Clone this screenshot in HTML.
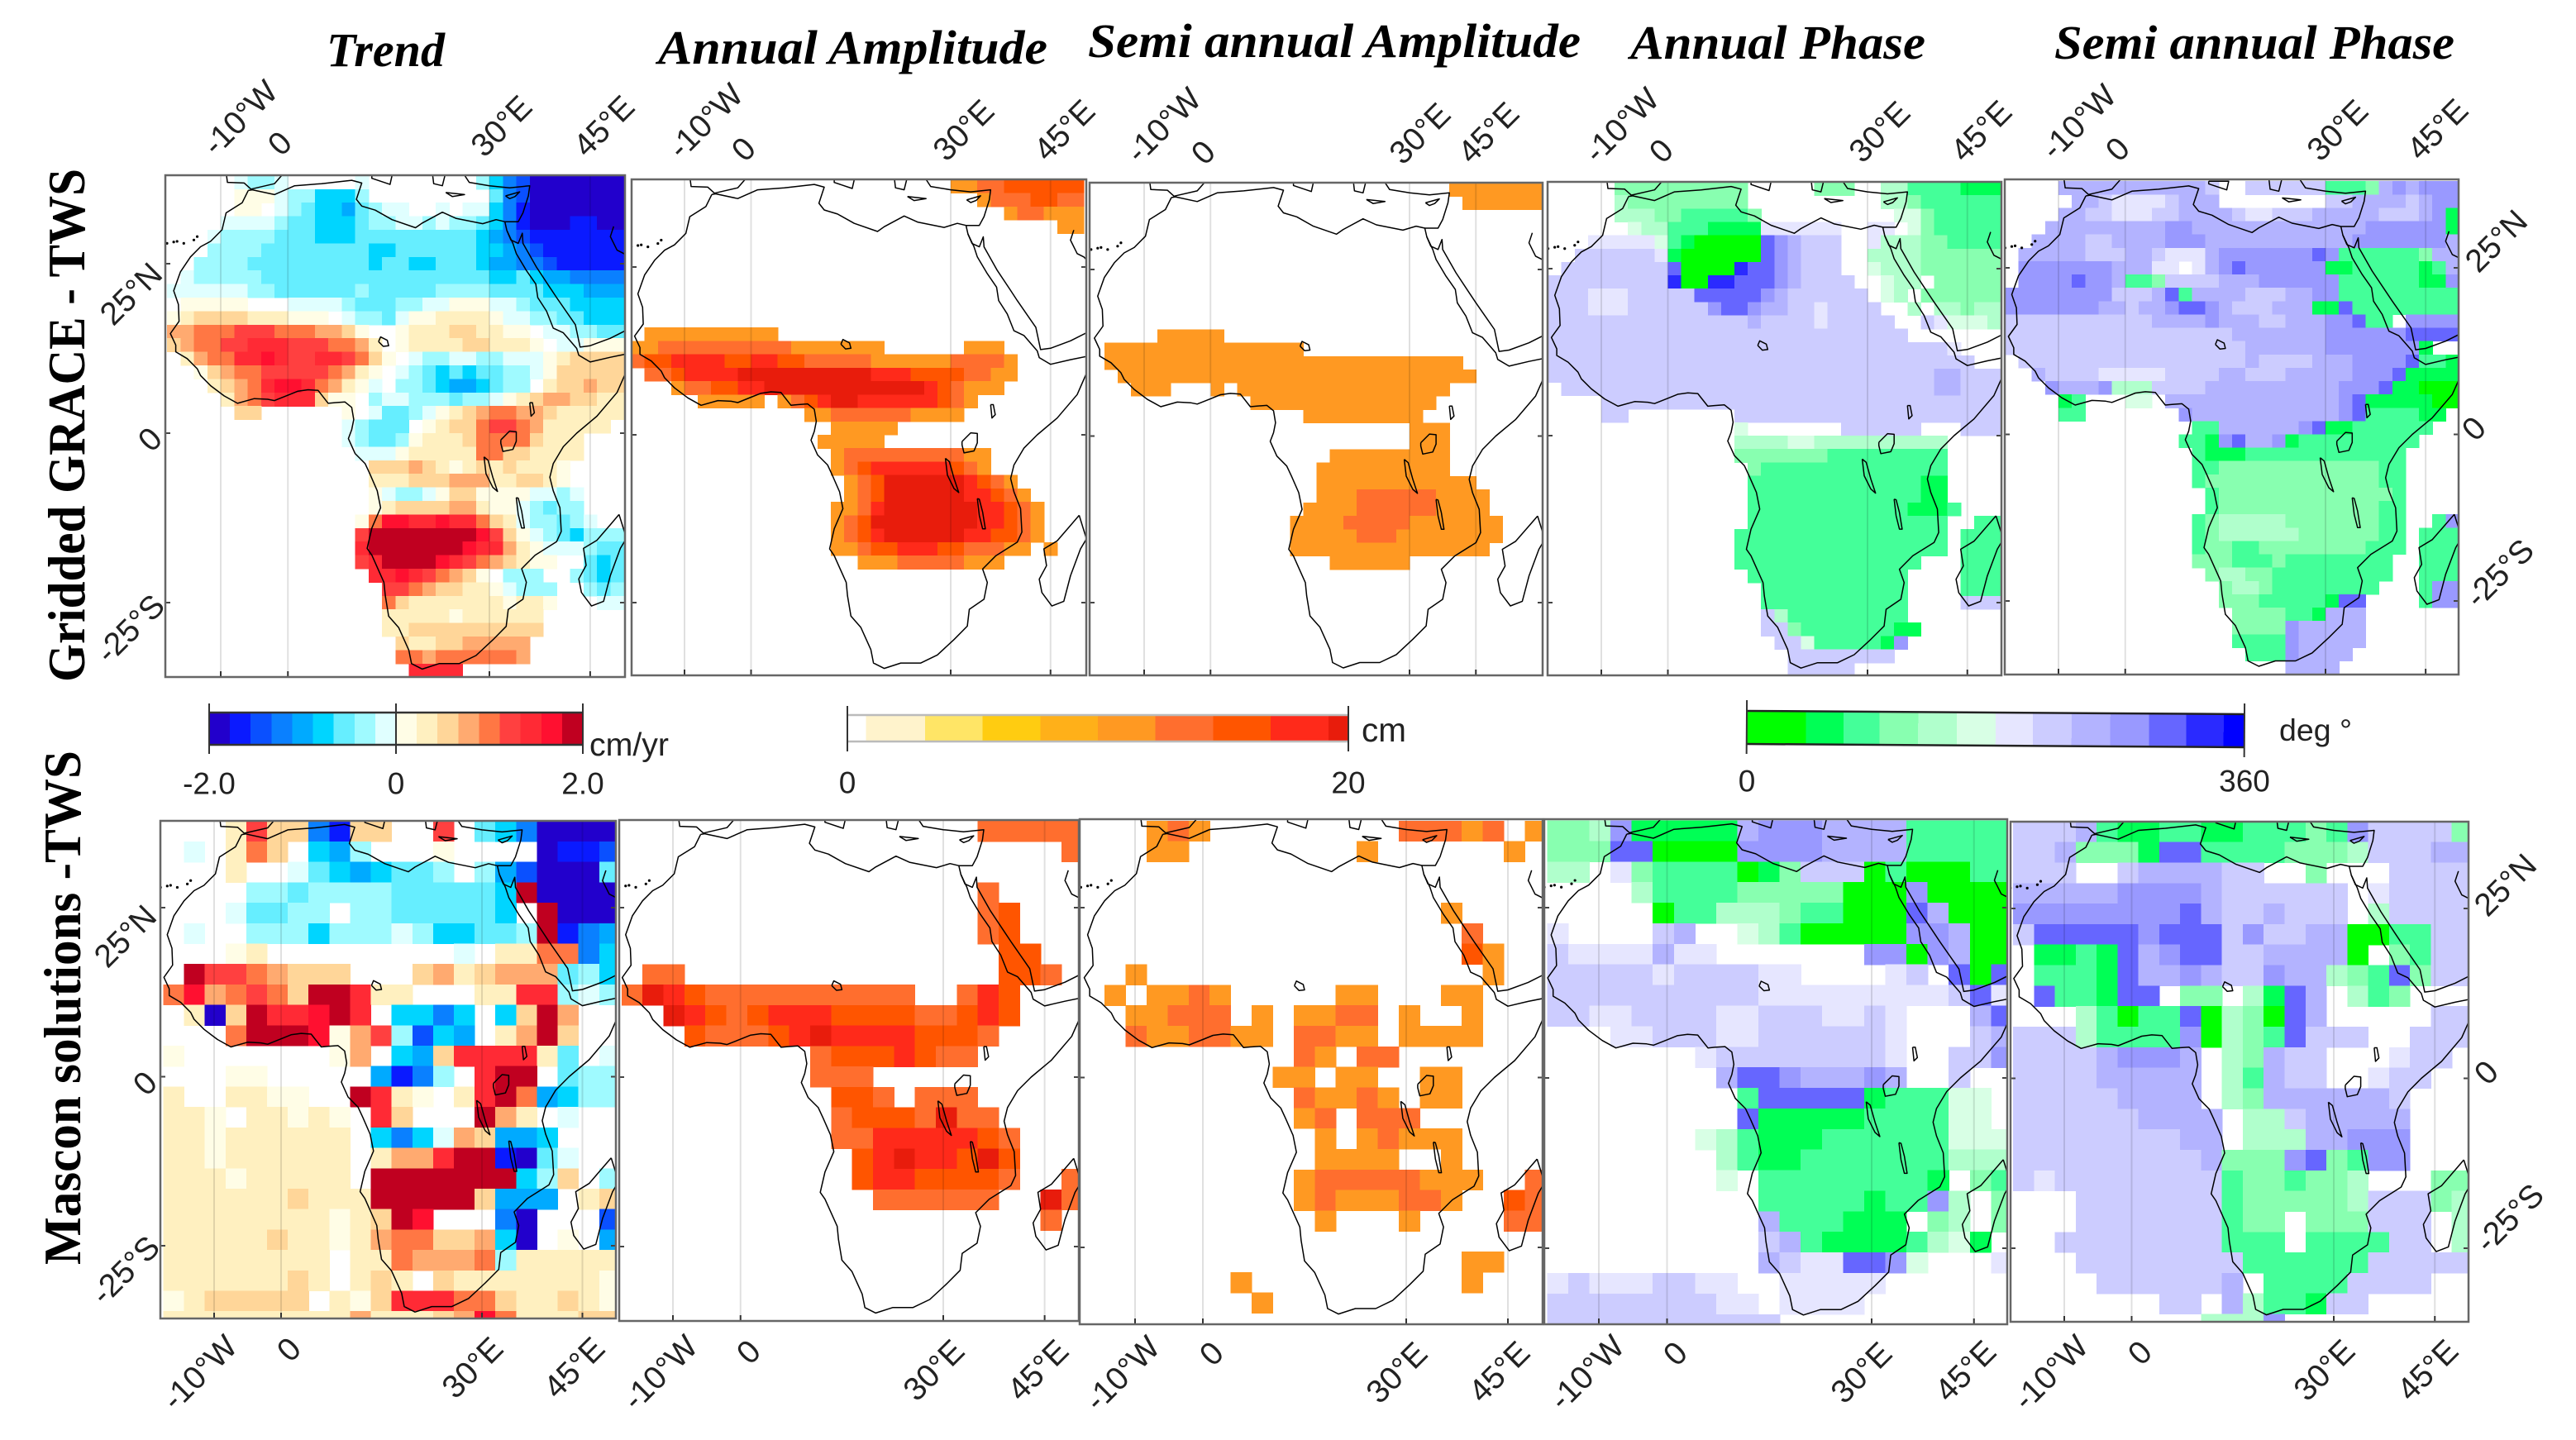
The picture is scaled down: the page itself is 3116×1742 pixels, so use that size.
<!DOCTYPE html>
<html lang="en">
<head>
<meta charset="utf-8">
<title>GRACE and Mascon TWS maps over Africa</title>
<style>
html,body{margin:0;padding:0;background:#fff;width:3116px;height:1742px;overflow:hidden}
svg{display:block}
text{font-family:"Liberation Sans",sans-serif;fill:#222}
.ttl{font-family:"Liberation Serif",serif;font-style:italic;font-weight:bold;font-size:58px;fill:#000}
.row{font-family:"Liberation Serif",serif;font-weight:bold;font-size:64px;fill:#000}
.tick{font-size:39px}
.cb{font-size:37px}
</style>
</head>
<body>
<svg id="chart" xmlns="http://www.w3.org/2000/svg" width="3116" height="1742" viewBox="0 0 3116 1742">
<rect width="3116" height="1742" fill="#fff"/>
<text class="ttl" x="395" y="80" textLength="143" lengthAdjust="spacingAndGlyphs">Trend</text>
<text class="ttl" x="796" y="77" textLength="471" lengthAdjust="spacingAndGlyphs">Annual Amplitude</text>
<text class="ttl" x="1316" y="69" textLength="596" lengthAdjust="spacingAndGlyphs">Semi annual Amplitude</text>
<text class="ttl" x="1972" y="71" textLength="357" lengthAdjust="spacingAndGlyphs">Annual Phase</text>
<text class="ttl" x="2485" y="71" textLength="484" lengthAdjust="spacingAndGlyphs">Semi annual Phase</text>
<text class="row" transform="translate(102 825) rotate(-90)" textLength="621" lengthAdjust="spacingAndGlyphs">Gridded GRACE - TWS</text>
<text class="row" transform="translate(97 1530) rotate(-90)" textLength="622" lengthAdjust="spacingAndGlyphs">Mascon solutions -TWS</text>
<text class="cb" x="713" y="914" style="font-size:39px" textLength="96" lengthAdjust="spacingAndGlyphs">cm/yr</text>
<text class="cb" x="1647" y="897" style="font-size:41px" textLength="54" lengthAdjust="spacingAndGlyphs">cm</text>
<text class="cb" x="2757" y="896" textLength="88" lengthAdjust="spacingAndGlyphs">deg °</text>
<g id="maps"></g>
<g id="bars"></g>
</svg>
<script>
// ---- colour tables and colourbar classes ----
const trendNeg=['#e0ffff','#9ffaff','#66eeff','#00d5ff','#00aaff','#0a80ff','#0a50ff','#0a1aff','#2200cc'];
const trendPos=['#fffde6','#fff0c0','#ffd699','#ffaa70','#ff7744','#ff4040','#ff2a35','#ff1030','#c00020'];
const ampColors=['#ffffff','#fff3cc','#ffe566','#ffcc11','#ffb019','#ff9922','#ff6e2e','#ff5500','#ff2a1a','#e81c0c'];
const ampBounds=[0,0.75,3.1,5.4,7.7,10,12.3,14.6,16.9,19.2,20];
const phaseColors=['#00ff00','#00ff55','#44ff99','#88ffb0','#b0ffcc','#d8ffe5','#e6e6ff','#ccccff','#b3b3ff','#9999ff','#6666ff','#2a2aff','#0000ff'];
const phaseBounds=[0,42.8,70,96,124,152,180,207,235,263,291,318,345,360];
const lonTicks=[-10,0,30,45];
const lonTickLabels=['-10°W','0','30°E','45°E'];
const latTicks=[25,0,-25];
const latTickLabels=['25°N','0','-25°S'];

// ---- top row: 2-degree classes, north to south, west to east (0 = no colour) ----
const graceTrend=[
[0,0,0,0,0,-1,-2,-2,-1,0,0,0,0,0,-1,0,0,0,0,0,0,0,0,-2,-4,-6,-7,-9,-9,-9,-9,-9,-9,-9],
[0,0,0,0,0,1,1,1,-1,-2,-2,-4,-4,-4,-2,0,0,0,0,0,0,0,0,0,-3,-6,-7,-9,-9,-9,-9,-9,-9,-9],
[0,0,0,0,0,1,1,0,-1,-2,-3,-4,-4,-5,-3,-2,-1,-1,0,0,-1,0,-1,-1,-4,-6,-8,-9,-9,-9,-9,-9,-9,-9],
[0,0,0,0,-1,-1,-1,-1,-2,-3,-3,-4,-4,-4,-3,-2,-2,-1,-1,-2,-1,-2,-2,-3,-4,-6,-8,-9,-9,-9,-8,-8,-9,-9],
[0,0,0,-1,-2,-2,-2,-2,-3,-3,-3,-4,-4,-4,-3,-3,-3,-3,-3,-3,-3,-3,-3,-4,-5,-6,-7,-8,-8,-8,-8,-8,-8,-8],
[0,0,0,-2,-2,-2,-2,-3,-3,-3,-3,-3,-3,-3,-3,-4,-4,-3,-3,-3,-3,-3,-3,-4,-4,-5,-6,-7,-8,-8,-8,-8,-8,-8],
[0,0,-2,-2,-2,-2,-3,-3,-3,-3,-3,-3,-3,-3,-3,-4,-3,-3,-4,-4,-3,-3,-3,-4,-5,-5,-6,-6,-7,-8,-8,-8,-8,-8],
[0,-1,-2,-2,-2,-2,-2,-3,-3,-3,-3,-3,-3,-3,-3,-3,-3,-3,-3,-3,-3,-3,-3,-3,-4,-4,-3,-4,-5,-5,-6,-6,-6,-6],
[-1,-1,-1,-1,-1,-1,-2,-2,-3,-3,-3,-3,-3,-3,-2,-3,-3,-3,-3,-3,-2,-2,-2,-2,-3,-3,-3,-3,-4,-4,-4,-5,-5,-5],
[0,1,1,1,1,1,0,0,0,-1,-1,-1,-1,-2,-3,-3,-3,-2,-2,-1,-1,1,1,1,-1,-1,-2,-3,-3,-3,-4,-4,-4,-4],
[1,2,3,3,3,3,2,2,2,1,1,1,0,-1,-2,-2,-3,-1,1,1,2,2,2,2,1,-1,-1,-2,-2,-3,-3,-4,-4,-4],
[4,4,5,5,5,6,6,6,5,5,5,4,4,3,1,0,0,1,2,2,2,3,3,2,2,1,1,0,-1,-1,-2,-2,-3,-3],
[3,4,5,5,6,6,7,7,7,6,6,6,5,5,4,2,0,1,2,2,2,2,3,3,2,2,2,1,0,-1,-1,1,1,1],
[0,2,4,5,5,7,7,8,7,6,6,7,7,6,5,3,1,0,-1,-2,-2,-1,-1,-2,-2,-1,-1,-1,1,2,3,3,3,3],
[0,0,1,3,4,5,5,6,6,6,6,6,5,4,2,1,0,-1,-2,-3,-4,-3,-4,-3,-3,-2,-2,-1,1,3,3,3,3,3],
[0,0,0,2,3,4,5,7,8,8,7,5,4,2,1,-1,0,-2,-2,-3,-4,-5,-5,-4,-3,-2,-2,0,2,3,3,4,3,3],
[0,0,0,0,2,4,5,6,7,7,7,3,1,1,0,-2,-1,-1,-2,-2,-2,-3,-2,-2,-1,1,2,3,4,4,3,3,2,2],
[0,0,0,0,0,3,3,0,0,0,0,0,0,1,0,-1,-3,-3,-2,-1,1,2,3,4,5,5,4,4,3,2,2,2,2,2],
[0,0,0,0,0,0,0,0,0,0,0,0,0,-1,-2,-3,-3,-3,0,1,2,3,3,5,6,6,5,4,2,2,2,2,2],
[0,0,0,0,0,0,0,0,0,0,0,0,0,-1,-2,-3,-3,-2,1,2,2,2,3,5,5,5,5,3,2,2,2],
[0,0,0,0,0,0,0,0,0,0,0,0,0,0,-1,-1,-1,1,2,2,2,2,2,5,5,3,3,2,2,2,2],
[0,0,0,0,0,0,0,0,0,0,0,0,0,0,0,3,3,3,4,3,2,1,2,3,2,3,2,2,2,1],
[0,0,0,0,0,0,0,0,0,0,0,0,0,0,0,2,2,2,3,3,3,4,4,4,2,2,3,3,2,1],
[0,0,0,0,0,0,0,0,0,0,0,0,0,0,0,1,-1,-2,-2,-1,1,3,3,1,1,1,1,-1,-1,-2,-1],
[0,0,0,0,0,0,0,0,0,0,0,0,0,0,0,1,2,3,3,3,3,4,4,2,1,1,-1,-2,-3,-2,-2],
[0,0,0,0,0,0,0,0,0,0,0,0,0,0,1,5,8,8,7,7,8,7,7,5,3,2,-1,-2,-2,-3,-2,-1],
[0,0,0,0,0,0,0,0,0,0,0,0,0,0,6,9,9,9,9,9,9,9,9,8,6,3,1,-1,-2,-3,-4,-2,-2,-2],
[0,0,0,0,0,0,0,0,0,0,0,0,0,0,7,9,9,9,9,9,9,9,8,7,7,4,2,1,-1,-1,-1,-2,-3,-3],
[0,0,0,0,0,0,0,0,0,0,0,0,0,0,6,7,9,9,9,9,8,7,6,5,4,3,2,1,1,0,0,-3,-4,-3],
[0,0,0,0,0,0,0,0,0,0,0,0,0,0,0,7,7,8,7,6,5,4,3,1,0,-2,-2,-2,0,0,-2,-3,-4,-3],
[0,0,0,0,0,0,0,0,0,0,0,0,0,0,0,0,6,6,5,4,3,3,2,2,1,-1,-2,-2,-2,0,0,-2,-3,-2],
[0,0,0,0,0,0,0,0,0,0,0,0,0,0,0,0,5,3,2,2,2,2,2,2,2,1,2,2,1,0,0,0,-1,-1],
[0,0,0,0,0,0,0,0,0,0,0,0,0,0,0,0,2,2,2,2,2,1,2,2,2,2,2,2],
[0,0,0,0,0,0,0,0,0,0,0,0,0,0,0,0,2,2,3,3,3,3,3,3,3,3,3,3],
[0,0,0,0,0,0,0,0,0,0,0,0,0,0,0,0,0,3,2,2,3,3,4,4,4,4,4],
[0,0,0,0,0,0,0,0,0,0,0,0,0,0,0,0,0,5,5,4,5,5,5,5,5,5,4],
[0,0,0,0,0,0,0,0,0,0,0,0,0,0,0,0,0,0,7,7,7,7]
];
const graceAnnualAmp=[
[0,0,0,0,0,0,0,0,0,0,0,0,0,0,0,0,0,0,0,0,0,0,0,0,5,5,6,6,7,7,7,7,7,7],
[0,0,0,0,0,0,0,0,0,0,0,0,0,0,0,0,0,0,0,0,0,0,0,0,0,0,5,6,6,6,7,7,6,6],
[0,0,0,0,0,0,0,0,0,0,0,0,0,0,0,0,0,0,0,0,0,0,0,0,0,0,0,0,5,6,6,5,5,5],
[0,0,0,0,0,0,0,0,0,0,0,0,0,0,0,0,0,0,0,0,0,0,0,0,0,0,0,0,0,0,0,0,5,5],
[],[],[],[],[],[],[],
[0,5,5,5,5,5,5,5,5,5,5],
[5,5,6,6,6,6,6,6,6,6,6,6,5,5,5,5,5,5,5,0,0,0,0,0,0,5,5,5],
[6,7,7,8,8,8,8,7,7,8,8,7,7,6,6,6,6,6,5,5,5,5,5,5,6,6,6,6,5],
[0,6,6,7,8,8,8,8,9,9,9,9,9,9,9,9,9,9,8,8,8,7,7,7,7,6,6,5,5],
[0,0,0,5,6,6,7,7,8,8,9,9,9,9,9,9,9,9,9,9,9,9,8,7,6,5,5,5],
[0,0,0,0,0,5,5,5,5,5,0,5,6,7,8,9,9,8,8,8,8,8,8,7,6,5],
[0,0,0,0,0,0,0,0,0,0,0,0,0,5,5,6,6,6,6,6,6,5,5,5,5],
[0,0,0,0,0,0,0,0,0,0,0,0,0,0,0,5,5,5,5,5],
[0,0,0,0,0,0,0,0,0,0,0,0,0,0,5,5,5,5,5],
[0,0,0,0,0,0,0,0,0,0,0,0,0,0,0,5,6,6,6,6,6,6,6,6,6,5,5],
[0,0,0,0,0,0,0,0,0,0,0,0,0,0,0,5,6,7,8,8,8,8,8,8,7,6,5],
[0,0,0,0,0,0,0,0,0,0,0,0,0,0,0,0,5,6,7,9,9,9,9,9,9,8,7,6,5],
[0,0,0,0,0,0,0,0,0,0,0,0,0,0,0,0,5,6,7,9,9,9,9,9,9,8,8,7,6,5],
[0,0,0,0,0,0,0,0,0,0,0,0,0,0,0,5,5,6,8,9,9,9,9,9,9,9,8,8,7,6,5],
[0,0,0,0,0,0,0,0,0,0,0,0,0,0,0,5,6,7,9,9,9,9,9,9,9,9,8,8,7,6,5],
[0,0,0,0,0,0,0,0,0,0,0,0,0,0,0,5,6,7,8,9,9,9,9,9,9,8,8,7,7,6,5],
[0,0,0,0,0,0,0,0,0,0,0,0,0,0,0,5,5,6,7,7,8,8,8,7,7,6,6,6,5,5,0,5],
[0,0,0,0,0,0,0,0,0,0,0,0,0,0,0,0,0,5,5,5,6,6,6,6,6,5,5,5]
];
const graceSemiAmp=[
[0,0,0,0,0,0,0,0,0,0,0,0,0,0,0,0,0,0,0,0,0,0,0,0,0,0,0,5,5,5,5,5,5,5],
[0,0,0,0,0,0,0,0,0,0,0,0,0,0,0,0,0,0,0,0,0,0,0,0,0,0,0,0,5,5,5,5,5,5],
[],[],[],[],[],[],[],[],[],
[0,0,0,0,0,5,5,5,5,5],
[0,5,5,5,5,5,5,5,5,5,5,5,5,5,5,5],
[0,5,5,5,5,5,5,5,5,5,5,5,5,5,5,5,5,5,5,5,5,5,5,5,5,5,5,5],
[0,0,5,5,5,5,5,5,5,5,5,5,5,5,5,5,5,5,5,5,5,5,5,5,5,5,5,5,5],
[0,0,0,5,5,5,0,0,0,5,0,5,5,5,5,5,5,5,5,5,5,5,5,5,5,5,5],
[0,0,0,0,0,0,0,0,0,0,0,0,5,5,5,5,5,5,5,5,5,5,5,5,5,5],
[0,0,0,0,0,0,0,0,0,0,0,0,0,0,0,0,5,5,5,5,5,5,5,5,5],
[0,0,0,0,0,0,0,0,0,0,0,0,0,0,0,0,0,0,0,0,0,0,0,0,5,5,5],
[0,0,0,0,0,0,0,0,0,0,0,0,0,0,0,0,0,0,0,0,0,0,0,0,5,5,5],
[0,0,0,0,0,0,0,0,0,0,0,0,0,0,0,0,0,0,5,5,5,5,5,5,5,5,5],
[0,0,0,0,0,0,0,0,0,0,0,0,0,0,0,0,0,5,5,5,5,5,5,5,5,5,5],
[0,0,0,0,0,0,0,0,0,0,0,0,0,0,0,0,0,5,5,5,5,5,5,5,5,5,5,5,5],
[0,0,0,0,0,0,0,0,0,0,0,0,0,0,0,0,0,5,5,5,6,6,6,6,6,6,5,5,5,5],
[0,0,0,0,0,0,0,0,0,0,0,0,0,0,0,0,5,5,5,5,6,6,6,6,6,6,5,5,5,5],
[0,0,0,0,0,0,0,0,0,0,0,0,0,0,0,5,5,5,5,6,6,6,6,6,5,5,5,5,5,5,5],
[0,0,0,0,0,0,0,0,0,0,0,0,0,0,0,5,5,5,5,5,6,6,6,5,5,5,5,5,5,5,5],
[0,0,0,0,0,0,0,0,0,0,0,0,0,0,0,5,5,5,5,5,5,5,5,5,5,5,5,5,5,5],
[0,0,0,0,0,0,0,0,0,0,0,0,0,0,0,0,0,0,5,5,5,5,5,5]
];
const graceAnnualPhase=[
[0,0,0,0,0,4,4,4,4,4,4,4,4,4,4,0,0,0,0,0,4,4,4,0,0,5,5,3,3,3,3,2,2,2],
[0,0,0,0,0,5,4,4,4,4,4,4,4,4,4,0,0,0,0,0,0,0,0,0,0,5,5,4,3,3,3,3,3,3],
[0,0,0,0,0,5,5,5,4,4,3,3,3,3,3,4,0,0,0,0,0,0,0,0,0,0,6,6,4,3,3,3,3,3],
[0,0,0,0,0,0,6,5,5,3,3,3,2,2,2,2,7,7,7,7,7,7,0,0,7,7,0,6,4,3,3,3,3,3],
[0,0,0,7,7,7,7,7,6,3,2,1,1,1,1,1,11,10,9,8,8,8,0,0,7,5,5,5,4,4,3,3,3,3],
[0,0,8,8,8,8,8,8,7,2,1,1,1,1,1,1,11,10,9,8,8,8,0,0,5,5,5,5,4,4,4,4,4,4],
[0,8,8,8,8,8,8,8,8,11,1,1,1,1,12,11,11,10,9,8,8,8,0,0,6,5,5,5,4,4,4,4,4,4],
[8,8,8,8,8,8,8,8,8,12,1,1,12,12,11,11,11,10,9,8,8,8,8,0,0,6,5,5,0,4,4,4,4,4],
[8,8,8,7,7,7,8,8,8,8,8,11,11,11,11,11,10,9,8,8,8,8,8,8,0,6,5,0,4,4,4,4,4,4],
[8,8,8,7,7,7,8,8,8,8,8,8,10,11,11,10,9,9,8,8,7,8,8,8,8,0,0,5,0,5,5,4,5,5],
[8,8,8,8,8,8,8,8,8,8,8,8,8,8,8,9,8,8,8,8,7,8,8,8,8,8,0,0,8,7,6,6,6,5],
[8,8,8,8,8,8,8,8,8,8,8,8,8,8,8,8,8,8,8,8,8,8,8,8,8,8,8,0,0,0,0,0,0,0],
[8,8,8,8,8,8,8,8,8,8,8,8,8,8,8,8,8,8,8,8,8,8,8,8,8,8,8,8,8,8,7,0,0,0],
[8,8,8,8,8,8,8,8,8,8,8,8,8,8,8,8,8,8,8,8,8,8,8,8,8,8,8,8,8,8,8,8,0,0],
[8,8,8,8,8,8,8,8,8,8,8,8,8,8,8,8,8,8,8,8,8,8,8,8,8,8,8,8,8,9,9,8,8,8],
[0,8,8,8,8,8,8,8,8,8,8,8,8,8,8,8,8,8,8,8,8,8,8,8,8,8,8,8,8,9,9,8,8,8],
[0,0,0,0,8,8,8,8,8,8,8,8,8,8,8,8,8,8,8,8,8,8,8,8,8,8,8,8,8,8,8,8,8,8],
[0,0,0,0,8,8,0,0,0,0,0,0,0,0,8,8,8,8,8,8,8,8,8,8,8,8,8,8,8,8,8,8,8,8],
[0,0,0,0,0,0,0,0,0,0,0,0,0,0,6,0,0,0,0,0,0,0,8,8,8,8,8,8,0,0,0,8,8,8],
[0,0,0,0,0,0,0,0,0,0,0,0,0,0,5,5,5,5,6,6,5,5,5,5,5,5,5,5,5,5],
[0,0,0,0,0,0,0,0,0,0,0,0,0,0,4,4,4,4,4,4,4,3,3,3,3,3,3,3,3,3],
[0,0,0,0,0,0,0,0,0,0,0,0,0,0,0,4,3,3,3,3,3,3,3,3,3,3,3,3,3,3],
[0,0,0,0,0,0,0,0,0,0,0,0,0,0,0,3,3,3,3,3,3,3,3,3,3,3,3,3,2,2],
[0,0,0,0,0,0,0,0,0,0,0,0,0,0,0,3,3,3,3,3,3,3,3,3,3,3,3,3,2,2],
[0,0,0,0,0,0,0,0,0,0,0,0,0,0,0,3,3,3,3,3,3,3,3,3,3,3,3,2,2,2,3],
[0,0,0,0,0,0,0,0,0,0,0,0,0,0,0,3,3,3,3,3,3,3,3,3,3,3,3,3,3,3,0,0,3,3],
[0,0,0,0,0,0,0,0,0,0,0,0,0,0,3,3,3,3,3,3,3,3,3,3,3,3,3,3,3,3,0,3,3,3],
[0,0,0,0,0,0,0,0,0,0,0,0,0,0,3,3,3,3,3,3,3,3,3,3,3,3,3,3,3,3,0,3,3,3],
[0,0,0,0,0,0,0,0,0,0,0,0,0,0,3,3,3,3,3,3,3,3,3,3,3,3,3,3,0,0,0,3,3,3],
[0,0,0,0,0,0,0,0,0,0,0,0,0,0,0,3,3,3,3,3,3,3,3,3,3,3,3,0,0,0,0,3,3,3],
[0,0,0,0,0,0,0,0,0,0,0,0,0,0,0,0,3,3,3,3,3,3,3,3,3,3,3,0,0,0,0,3,3,3],
[0,0,0,0,0,0,0,0,0,0,0,0,0,0,0,0,3,3,3,3,3,3,3,3,3,3,3,0,0,0,0,8,8,8],
[0,0,0,0,0,0,0,0,0,0,0,0,0,0,0,0,8,5,3,3,3,3,3,3,3,3,3],
[0,0,0,0,0,0,0,0,0,0,0,0,0,0,0,0,8,8,4,3,3,3,3,3,3,3,2,2],
[0,0,0,0,0,0,0,0,0,0,0,0,0,0,0,0,0,8,8,6,3,3,3,3,3,2,10],
[0,0,0,0,0,0,0,0,0,0,0,0,0,0,0,0,0,0,8,8,8,8,8,8,8,8],
[0,0,0,0,0,0,0,0,0,0,0,0,0,0,0,0,0,0,8,8,8,8,8]
];
const graceSemiPhase=[
[0,0,0,0,9,9,9,9,9,9,9,9,9,9,9,8,0,0,8,8,8,8,8,8,3,3,3,4,9,10,9,10,10,10],
[0,0,0,0,0,9,9,8,7,7,7,7,8,9,9,9,0,0,0,0,0,0,0,0,8,8,9,9,9,9,8,9,10,10],
[0,0,0,0,9,9,8,8,7,7,7,8,8,9,9,9,9,8,7,7,8,8,8,9,9,9,9,9,8,8,8,9,10,2],
[0,0,0,9,9,9,9,9,9,9,9,9,10,10,9,9,9,9,9,9,9,9,9,9,9,9,9,10,10,10,10,10,10,2],
[0,0,9,9,9,9,8,8,9,9,9,9,10,10,10,9,9,9,9,9,9,9,9,9,9,9,10,10,10,10,10,10,10,9],
[0,9,9,9,9,9,8,8,8,9,9,8,7,7,7,9,10,10,10,10,10,10,10,11,10,3,3,3,3,3,3,4,9,9],
[0,10,10,10,10,10,10,10,9,9,9,7,7,0,7,9,10,11,10,10,10,10,10,10,2,2,3,3,3,3,3,2,3,9],
[0,10,10,10,10,11,10,10,9,3,3,4,8,8,8,8,9,9,9,10,10,10,10,10,10,3,3,3,3,3,3,2,2,10],
[10,10,10,10,10,10,10,10,8,8,8,9,11,3,9,9,9,9,8,8,8,9,9,10,10,3,3,3,3,3,3,3,3,3],
[10,10,10,10,10,10,10,9,9,8,9,9,10,11,11,10,9,8,8,8,9,9,9,2,2,11,3,3,3,3,3,3,3,3],
[8,8,8,8,8,8,8,8,8,8,8,9,9,9,9,10,9,9,9,8,8,9,9,9,10,10,11,3,3,0,10,10,10,10],
[8,8,8,8,8,8,8,8,8,8,8,8,8,8,8,8,8,9,9,9,9,9,9,9,10,10,10,10,10,10,11,11,11,11],
[8,8,8,8,8,8,8,8,8,8,8,8,8,8,8,8,8,8,9,9,9,9,9,9,10,10,10,10,10,10,10,2,0,0],
[0,8,8,8,8,8,8,8,8,8,8,8,8,8,8,8,8,8,9,8,8,8,8,9,9,9,10,10,10,10,11,3,3,2],
[0,0,9,8,8,8,8,7,7,7,7,7,8,8,8,8,9,9,8,8,8,9,9,9,9,9,10,10,10,11,2,2,2,2],
[0,0,0,10,9,9,9,10,5,5,5,8,8,8,8,9,9,9,9,9,9,9,9,9,9,10,10,10,11,2,2,1,1,1],
[0,0,0,0,2,3,0,0,0,6,6,0,9,9,9,9,9,9,9,9,9,9,9,9,9,10,11,2,2,2,2,2,1,1],
[0,0,0,0,3,3,0,0,0,0,0,0,0,10,9,9,9,9,9,9,9,9,9,9,9,10,11,3,3,3,3,2,2],
[0,0,0,0,0,0,0,0,0,0,0,0,0,0,3,3,9,9,9,9,9,9,10,11,2,2,3,3,3,3,3,3],
[0,0,0,0,0,0,0,0,0,0,0,0,0,3,3,2,10,11,9,9,10,2,3,3,3,3,3,3,3,3,3],
[0,0,0,0,0,0,0,0,0,0,0,0,0,0,3,2,2,2,3,3,3,3,3,3,3,3,3,3,3,3],
[0,0,0,0,0,0,0,0,0,0,0,0,0,0,3,3,4,4,4,4,4,4,4,4,4,4,4,4,3,3],
[0,0,0,0,0,0,0,0,0,0,0,0,0,0,3,4,4,4,4,4,4,4,4,4,4,4,4,4,3,3],
[0,0,0,0,0,0,0,0,0,0,0,0,0,0,0,3,4,4,4,4,4,4,4,4,4,4,4,4,4,3],
[0,0,0,0,0,0,0,0,0,0,0,0,0,0,0,3,4,4,4,4,4,4,4,4,4,4,4,4,3,3],
[0,0,0,0,0,0,0,0,0,0,0,0,0,0,3,4,5,5,5,5,5,4,4,4,4,4,4,4,3,3,0,0,3,10],
[0,0,0,0,0,0,0,0,0,0,0,0,0,0,3,4,5,5,5,5,5,5,4,4,4,4,4,4,3,3,0,3,3,3],
[0,0,0,0,0,0,0,0,0,0,0,0,0,0,3,4,4,3,3,4,4,4,4,4,4,4,4,3,3,3,0,3,3,3],
[0,0,0,0,0,0,0,0,0,0,0,0,0,0,4,4,4,3,3,3,4,3,3,3,3,3,3,3,3,0,0,3,3,3],
[0,0,0,0,0,0,0,0,0,0,0,0,0,0,0,4,5,5,4,4,3,3,3,3,3,3,3,3,3,0,0,3,3,3],
[0,0,0,0,0,0,0,0,0,0,0,0,0,0,0,0,4,5,5,4,3,3,3,3,3,3,3,3,0,0,0,3,10,10],
[0,0,0,0,0,0,0,0,0,0,0,0,0,0,0,0,4,4,4,3,3,3,3,3,2,11,11,0,0,0,0,3,10,10],
[0,0,0,0,0,0,0,0,0,0,0,0,0,0,0,0,0,4,4,4,4,3,3,2,9,9,9],
[0,0,0,0,0,0,0,0,0,0,0,0,0,0,0,0,0,4,4,4,4,10,9,9,9,9,9],
[0,0,0,0,0,0,0,0,0,0,0,0,0,0,0,0,0,3,3,3,3,10,9,9,9,9,9],
[0,0,0,0,0,0,0,0,0,0,0,0,0,0,0,0,0,0,3,3,3,10,9,9,9,9],
[0,0,0,0,0,0,0,0,0,0,0,0,0,0,0,0,0,0,0,0,0,9,9,9,9]
];

// ---- bottom row: 3-degree mascon classes ----
const masconTrend=[
[0,0,0,2,6,3,3,-6,-8,3,3,0,0,6,0,-3,-4,-6,-9,-9,-9,-9],
[0,-1,0,2,5,3,0,-4,-5,-2,0,0,0,1,0,0,0,0,-9,-8,-8,-7],
[0,0,0,2,0,0,-1,-3,-4,-5,-4,-3,-3,-2,0,-2,-5,-7,-9,-9,-9,-3],
[0,0,0,0,-2,-2,-3,-2,-2,-2,-2,-3,-3,-3,-3,-3,-4,9,-9,-9,-9,-9],
[0,0,0,-1,-3,-3,-2,-2,0,-2,-2,-3,-3,-3,-3,-3,-4,0,9,-9,-9,-9],
[0,-1,0,0,-2,-2,-2,-4,-2,-2,-2,-1,-2,-4,-4,-3,-3,-2,9,-8,-6,-5],
[0,0,0,1,2,0,0,0,0,0,0,0,0,0,-1,0,2,2,5,5,-6,-4],
[0,9,6,6,5,4,3,3,3,0,0,0,3,4,2,3,4,4,4,-3,-2,-4],
[5,8,4,5,6,5,3,9,9,7,2,2,0,0,0,2,2,7,7,-2,-1,-2],
[0,2,-9,3,9,7,7,8,9,7,0,-4,-4,-6,-4,0,-4,3,9,4,0,0],
[0,0,0,5,9,9,9,8,1,4,6,-2,-7,-4,-5,0,2,4,9,3,0,0],
[1,0,0,0,0,0,0,0,1,4,0,-4,-5,3,7,7,7,7,2,-3,0,-1],
[0,0,0,1,1,0,0,0,0,0,-5,-8,-6,-2,0,7,9,9,0,-3,-2,-2],
[2,0,0,2,2,1,1,0,0,9,7,2,1,0,2,7,9,5,-5,-4,-2,-2],
[2,2,1,0,2,2,1,2,1,0,7,3,0,0,0,9,4,2,0,-1,0,0],
[2,2,1,2,2,2,2,2,2,0,-4,-6,-4,-1,4,3,-5,-5,-4,0,0,0],
[2,2,1,2,2,2,2,2,2,0,2,4,4,7,9,9,-8,-9,-3,-1,0,0],
[2,2,2,1,2,2,2,2,2,0,9,9,9,9,9,9,9,-4,-2,3,0,-2],
[2,2,2,2,2,2,3,2,2,2,9,9,9,9,9,3,-5,-5,-5,0,2,3],
[2,2,2,2,2,2,2,2,1,2,3,9,8,0,0,0,-6,-9,0,0,0,-7],
[2,2,2,2,2,3,2,2,1,2,4,5,5,3,3,4,-4,-9,0,1,0,-5],
[2,2,2,2,2,2,2,2,0,2,2,5,4,4,4,5,-2,2,2,2,2,2],
[2,2,2,2,2,2,3,2,0,2,3,2,0,3,2,2,2,2,2,2,2,1],
[1,2,3,3,3,3,3,0,2,1,3,7,7,7,5,5,3,2,2,3,2,1],
[2,2,2,2,2,2,2,2,2,4,2,2,2,3,4,8,5,2,2,2,3,3]
];
const masconAnnualAmp=[
[0,0,0,0,0,0,0,0,0,0,0,0,0,0,0,0,0,6,6,6,6,6],
[0,0,0,0,0,0,0,0,0,0,0,0,0,0,0,0,0,0,0,0,0,6],
[],
[0,0,0,0,0,0,0,0,0,0,0,0,0,0,0,0,0,6],
[0,0,0,0,0,0,0,0,0,0,0,0,0,0,0,0,0,6,7],
[0,0,0,0,0,0,0,0,0,0,0,0,0,0,0,0,0,6,7],
[0,0,0,0,0,0,0,0,0,0,0,0,0,0,0,0,0,0,7,7],
[0,6,6,0,0,0,0,0,0,0,0,0,0,0,0,0,0,0,7,7,6],
[6,9,8,7,6,6,6,6,6,6,6,6,6,6,0,0,6,8,7],
[0,0,9,8,7,6,7,8,8,8,7,7,7,7,6,6,7,8,7],
[0,0,0,7,6,6,6,7,8,9,8,8,8,8,7,7,7,6],
[0,0,0,0,0,0,0,0,0,6,7,7,7,8,7,6,6],
[0,0,0,0,0,0,0,0,0,6,6,6],
[0,0,0,0,0,0,0,0,0,0,7,7,6,0,6,6,6],
[0,0,0,0,0,0,0,0,0,0,6,7,7,7,6,9,6,6],
[0,0,0,0,0,0,0,0,0,0,6,6,8,8,8,8,8,7,6],
[0,0,0,0,0,0,0,0,0,0,0,7,8,9,8,8,7,9,7],
[0,0,0,0,0,0,0,0,0,0,0,7,8,8,7,7,7,7,6,0,0,6],
[0,0,0,0,0,0,0,0,0,0,0,0,6,6,6,6,6,6,0,0,9,6],
[0,0,0,0,0,0,0,0,0,0,0,0,0,0,0,0,0,0,0,0,6],
[],[],[],[],[]
];
const masconSemiAmp=[
[0,0,0,5,6,5,0,0,0,0,0,0,0,0,0,6,6,6,5,6,0,5],
[0,0,0,5,5,0,0,0,0,0,0,0,0,5,0,0,0,0,0,0,5],
[],[],
[0,0,0,0,0,0,0,0,0,0,0,0,0,0,0,0,0,5],
[0,0,0,0,0,0,0,0,0,0,0,0,0,0,0,0,0,0,6],
[0,0,0,0,0,0,0,0,0,0,0,0,0,0,0,0,0,0,7,5],
[0,0,5,0,0,0,0,0,0,0,0,0,0,0,0,0,0,0,0,5],
[0,5,0,5,5,6,5,0,0,0,0,0,5,5,0,0,0,5,5],
[0,0,5,5,6,6,6,0,5,0,5,5,6,6,0,5,0,0,5],
[0,0,6,5,5,6,6,5,5,0,6,6,5,5,0,5,5,5,5],
[0,0,0,0,0,0,0,0,0,0,6,5,0,6,6],
[0,0,0,0,0,0,0,0,0,5,5,0,5,5,0,0,5,5],
[0,0,0,0,0,0,0,0,0,0,6,5,5,6,5,0,5,5],
[0,0,0,0,0,0,0,0,0,0,5,6,0,6,6,6],
[0,0,0,0,0,0,0,0,0,0,0,5,0,5,6,5,5,5],
[0,0,0,0,0,0,0,0,0,0,0,5,5,5,5,0,0,5],
[0,0,0,0,0,0,0,0,0,0,5,6,6,6,6,6,5,5,5,0,0,6],
[0,0,0,0,0,0,0,0,0,0,5,6,5,5,5,6,6,5,0,0,7,6],
[0,0,0,0,0,0,0,0,0,0,0,5,0,0,0,5,0,0,0,0,6,6],
[],
[0,0,0,0,0,0,0,0,0,0,0,0,0,0,0,0,0,0,5,5],
[0,0,0,0,0,0,0,5,0,0,0,0,0,0,0,0,0,0,5],
[0,0,0,0,0,0,0,0,5],
[]
];
const masconAnnualPhase=[
[4,4,5,10,2,2,2,2,2,9,10,10,10,9,9,9,9,3,3,3,3,3],
[4,4,4,11,11,1,1,1,1,10,10,10,10,9,9,9,9,3,3,3,3,3],
[5,5,0,7,4,3,3,3,3,1,2,4,8,8,8,1,3,1,1,1,3,3],
[0,0,0,0,5,3,3,3,3,4,4,4,4,4,1,1,1,10,1,1,1,1],
[0,0,0,0,0,1,3,3,5,5,5,4,3,3,1,1,1,11,9,1,1,1],
[7,0,0,0,0,8,9,0,0,6,5,3,1,1,1,1,1,10,10,9,1,1],
[8,7,7,7,7,9,7,7,0,0,0,0,0,0,0,10,10,1,10,9,1,1],
[8,8,8,8,8,7,8,8,8,8,7,7,0,0,0,0,7,8,0,11,1,11],
[8,8,8,8,8,8,8,8,8,8,7,7,7,7,7,7,7,7,7,8,11,7],
[8,8,7,7,8,8,8,8,7,7,8,8,8,7,7,8,7,0,0,0,9,11],
[0,0,0,7,7,8,8,8,7,7,8,8,8,8,8,8,7,0,0,0,8,9],
[0,0,0,0,0,0,0,7,8,8,8,8,8,8,8,8,7,0,0,8,8,10],
[0,0,0,0,0,0,0,0,9,11,11,10,9,9,9,10,9,0,0,8],
[0,0,0,0,0,0,0,0,0,3,11,11,11,11,11,2,3,3,3,6,6],
[0,0,0,0,0,0,0,0,0,11,2,2,2,2,2,3,3,3,3,6,6],
[0,0,0,0,0,0,0,6,5,3,2,2,2,3,3,3,3,3,3,6,6,6],
[0,0,0,0,0,0,0,0,5,3,2,2,3,3,3,3,3,3,3,5,5,5],
[0,0,0,0,0,0,0,0,6,0,3,3,3,3,3,3,3,3,2,0,4,3],
[0,0,0,0,0,0,0,0,0,0,3,3,3,3,3,2,3,3,10,5,0,4],
[0,0,0,0,0,0,0,0,0,0,9,3,3,3,2,2,2,0,4,5,0,4],
[0,0,0,0,0,0,0,0,0,0,8,9,3,2,2,2,2,3,5,6,2],
[0,0,0,0,0,0,0,0,0,0,9,8,7,7,11,11,10,6,0,0,0,7],
[7,8,7,7,7,8,8,7,7,0,0,7,7,7,7,7],
[8,8,8,8,8,8,8,8,7,7,0,7,7,7,7],
[8,8,8,8,8,8,8,8,8,8,8]
];
const masconSemiPhase=[
[8,8,8,9,3,2,2,3,3,2,2,3,3,3,4,3,10,8,8,8,8,4],
[8,8,9,4,4,4,2,11,11,3,3,3,3,4,4,4,5,8,8,8,9,9],
[8,8,8,0,0,8,9,9,9,9,8,8,0,0,4,0,0,0,8,8,8,8],
[9,9,9,9,9,10,10,10,10,9,8,8,8,8,8,8,0,7,8,8,8,8],
[10,10,10,10,10,10,10,10,11,9,8,8,9,8,8,8,0,5,8,8,8,8],
[8,11,11,11,11,11,10,11,11,11,8,10,8,8,9,9,1,1,3,3,8,8],
[0,2,2,3,2,11,9,10,11,11,8,8,9,9,9,9,1,0,4,3,8,8],
[0,3,3,3,2,11,9,9,10,9,8,8,10,9,9,5,4,3,11,4,8,8],
[0,11,3,3,2,11,11,0,4,4,0,5,2,11,9,0,5,3,4,0,0,0],
[0,0,0,5,3,1,3,3,11,1,5,4,1,11,9,0,0,0,0,0,8,8],
[8,8,8,5,3,3,3,3,10,1,5,4,3,11,8,8,8,0,0,8,8,8],
[8,8,8,8,9,10,10,10,9,0,5,4,9,8,8,0,0,0,7,8,8],
[8,8,8,8,9,9,9,9,9,0,5,3,9,8,8,0,0,7,8,8],
[8,8,8,8,8,9,9,9,9,0,5,4,9,9,9,9,9,9,8],
[8,8,8,8,8,8,9,9,9,9,0,5,5,8,9,9,9,9,9],
[8,8,8,8,8,8,8,8,9,9,0,5,5,5,9,9,10,10,10],
[8,8,8,8,8,8,8,8,8,9,4,4,4,10,11,4,3,10,10],
[8,7,8,8,8,8,8,8,8,8,3,4,4,3,4,4,5,0,0,0,4,4],
[0,0,0,8,8,8,8,8,8,8,3,4,4,4,4,4,5,8,8,8,4,5],
[0,0,0,8,8,8,8,8,8,8,3,4,4,0,4,4,4,8,8,8,0,5],
[0,0,8,8,8,8,8,8,8,8,3,3,3,0,3,3,3,3,8,8,0,5],
[0,0,0,8,8,8,8,8,8,8,8,3,3,3,3,3,3,8,8,8,8,8],
[0,0,0,0,8,8,8,8,8,8,9,0,3,3,3,3,8,8,8,8],
[0,0,0,0,0,0,0,8,8,0,9,5,3,3,2,8,8],
[0,0,0,0,0,0,0,0,0,5,5,5,10]
];

// ---- coastline reference (longitude, latitude) ----
const africaCoast=[[-5.9,35.8],[-6.8,34],[-9.2,32.5],[-9.8,30],[-11.5,28.3],[-13,27.5],[-14.5,26],[-16,23.8],[-17,21],[-16.3,19],[-16.2,16.5],[-17.5,14.7],[-16.7,13],[-16.7,12],[-15,11],[-13.5,9.5],[-13,8.5],[-11.5,7],[-9.5,5.5],[-7.5,4.4],[-5,5.1],[-3,5],[-2,4.8],[0,5.6],[1.5,6.2],[3,6.4],[4.5,6.3],[6,4.4],[7,4.5],[8.5,4.6],[9.5,3.8],[9.8,2],[9.5,0.5],[9,-0.8],[10,-3],[11.5,-4.5],[12.2,-6],[13.3,-8.5],[13.8,-11],[12.5,-14],[11.8,-17],[12.5,-18],[14.3,-22],[14.5,-24],[15,-27],[16.5,-28.7],[18,-32],[18.4,-34],[20,-34.8],[22.5,-34],[25.5,-34],[28,-32.8],[30.5,-30.5],[32.5,-28.5],[32.8,-26],[35,-24.5],[35.5,-22],[34.8,-20],[36.8,-18],[40,-16],[40.7,-14.5],[40.5,-11],[39.5,-8.5],[39,-6.5],[39.5,-4.5],[41,-2],[43,0],[46,2.5],[49,6],[51,10.5],[51,11.8],[48,11.2],[45,10.5],[43.3,11.5],[43,12.5],[41,14.8],[39.5,15.5],[38.5,18],[37.2,20],[36.9,22],[35.5,24],[34,26.5],[33.5,28],[32.6,29.9],[32.3,31.2],[31,31.5],[29,30.9],[25,31.7],[23,32.6],[20,31],[19,30.3],[15.5,31.5],[13,32.9],[11,33.5],[10.2,34.5],[11,36.9],[9.5,37.3],[5,36.8],[1,36.5],[-2,35.2],[-5.3,35.9],[-5.9,35.8]];
const arabiaCoast=[[52,16],[48,14],[45,12.9],[43.5,12.7],[42.8,16],[40,20],[39,21.5],[37,24.5],[35,28],[34.9,29.5],[34.3,28],[33.2,28.5],[32.6,29.9]];
const levantCoast=[[32.3,31.2],[34.3,31.2],[35,32.5],[35.8,35],[36,36.5],[33,36.2],[30,36.5],[27,37],[26,38.5]];
const gulfCoast=[[52,24.5],[50,26.5],[49,27],[48,29],[48.5,30.5]];
const iberiaCoast=[[-9.2,38.5],[-9,37],[-6.5,36.9],[-5.5,36],[-2,36.8],[-0.5,38.5]];
const sicilyCoast=[[12.5,38],[15.5,38],[15.2,36.7],[12.5,37.6],[12.5,38]];
const greeceCoast=[[21.5,38.5],[21.7,36.8],[23,36.5],[23.5,38.5]];
const creteCoast=[[23.5,35.5],[26.3,35.2],[24.5,34.9],[23.5,35.5]];
const cyprusCoast=[[32.4,35],[34.5,35.6],[33.8,34.9],[33,34.6],[32.4,35]];
const madagascarCoast=[[49.3,-12],[50.4,-15.5],[49.5,-17],[48,-21],[47,-24.8],[45.2,-25.5],[43.7,-23.5],[43.3,-21.5],[44.4,-19.5],[44,-17],[46,-15.8],[48,-13.5],[49.3,-12]];
const lakeVictoria=[[31.7,-1],[33,0.3],[34,0.2],[34,-1.2],[33.5,-2.4],[32,-2.7],[31.7,-1.5],[31.7,-1]];
const lakeTanganyika=[[29.2,-3.5],[29.5,-6],[30.5,-8],[31.2,-8.6],[30.5,-6.5],[29.8,-4],[29.2,-3.5]];
const lakeMalawi=[[34,-9.5],[34.3,-12],[34.8,-14],[35.2,-14],[34.8,-11.5],[34.3,-9.6],[34,-9.5]];
const lakeChad=[[13.5,13.5],[14.2,12.8],[15,12.9],[14.8,13.7],[13.8,14.2],[13.5,13.5]];
const lakeTurkana=[[36,4.5],[36.2,2.5],[36.7,3],[36.4,4.5],[36,4.5]];
const canaryIslands=[[-18,28],[-17,28.2],[-16.5,28.3],[-15.5,28],[-14,28.5],[-13.5,29]];
const coastLines=[africaCoast,arabiaCoast,levantCoast,gulfCoast,iberiaCoast,sicilyCoast,greeceCoast,creteCoast,cyprusCoast,madagascarCoast,lakeVictoria,lakeTanganyika,lakeMalawi,lakeChad,lakeTurkana];

// ---- colour functions ----
function trendColor(v){
  if(v===0) return null;
  const m=Math.min(9,Math.abs(v));
  return v<0?trendNeg[m-1]:trendPos[m-1];
}
function ampColor(v){return v<=0?null:ampColors[Math.min(9,v)];}
function phaseColor(v){return v<=0?null:phaseColors[Math.min(13,v)-1];}

// ---- panel layout ----
const fine={lon0:-18,lat0:38,dLon:2,dLat:2};
const coarse={lon0:-17.6,lat0:37.8,dLon:3.1,dLat:3.02};
const panels=[
{id:'grace-trend',data:graceTrend,color:trendColor,g:fine,L:200,R:756,T:212,B:819,x10:267,x30:592,y25:319,ym25:729,lab:[[291,143],[339,174],[607,153],[731,153]],latLab:[[159,356],[182,532],[158,761]]},
{id:'grace-annual-amplitude',data:graceAnnualAmp,color:ampColor,g:fine,L:764,R:1314,T:217,B:817,x10:828,x30:1150,y25:323,ym25:729,lab:[[854,147],[900,181],[1166,158],[1288,158]]},
{id:'grace-semi-amplitude',data:graceSemiAmp,color:ampColor,g:fine,L:1318,R:1866,T:221,B:817,x10:1384,x30:1705,y25:326,ym25:729,last:40,lab:[[1408,152],[1456,185],[1718,162],[1801,161]]},
{id:'grace-annual-phase',data:graceAnnualPhase,color:phaseColor,g:fine,L:1872,R:2421,T:220,B:817,x10:1937,x30:2259,y25:325,ym25:729,lab:[[1962,152],[2010,183],[2274,160],[2397,159]]},
{id:'grace-semi-phase',data:graceSemiPhase,color:phaseColor,g:fine,L:2425,R:2974,T:217,B:816,x10:2490,x30:2813,y25:324,ym25:727,lab:[[2515,148],[2562,181],[2828,158],[2949,157]],latLab:[[3020,292],[2993,519],[3024,694]]},
{id:'mascon-trend',data:masconTrend,color:trendColor,g:coarse,L:194,R:745,T:993,B:1595,x10:259,x30:583,y25:1098,ym25:1507,lab:[[242,1661],[350,1633],[572,1655],[695,1655]],latLab:[[152,1133],[176,1311],[152,1537]]},
{id:'mascon-annual-amplitude',data:masconAnnualAmp,color:ampColor,g:coarse,L:749,R:1305,T:992,B:1598,x10:814,x30:1141,y25:1098,ym25:1508,lab:[[799,1661],[906,1636],[1130,1658],[1256,1658]]},
{id:'mascon-semi-amplitude',data:masconSemiAmp,color:ampColor,g:coarse,L:1306,R:1866,T:991,B:1602,x10:1373,x30:1701,y25:1098,ym25:1509,lab:[[1358,1662],[1466,1638],[1690,1661],[1814,1660]]},
{id:'mascon-annual-phase',data:masconAnnualPhase,color:phaseColor,g:coarse,L:1868,R:2428,T:991,B:1602,x10:1934,x30:2264,y25:1098,ym25:1510,lab:[[1920,1661],[2027,1638],[2252,1661],[2378,1659]]},
{id:'mascon-semi-phase',data:masconSemiPhase,color:phaseColor,g:coarse,L:2432,R:2986,T:994,B:1599,x10:2497,x30:2823,y25:1099,ym25:1510,lab:[[2481,1661],[2589,1637],[2812,1658],[2937,1658]],latLab:[[3031,1071],[3008,1298],[3036,1474]]}
];

const NS='http://www.w3.org/2000/svg';
function mk(tag,attrs,parent){
  const e=document.createElementNS(NS,tag);
  for(const k in attrs) e.setAttribute(k,attrs[k]);
  parent.appendChild(e);
  return e;
}
function xScale(p,lon){return p.x10+(lon+10)*(p.x30-p.x10)/40;}
function yScale(p,lat){return p.y25+(25-lat)*(p.ym25-p.y25)/50;}

const maps=document.getElementById('maps');
const defs=mk('defs',{},maps);
panels.forEach(function(p){
  const clip=mk('clipPath',{id:'clip-'+p.id},defs);
  mk('rect',{x:p.L,y:p.T,width:p.R-p.L,height:p.B-p.T},clip);
  const g=mk('g',{},maps);
  
  
  const inner=mk('g',{'clip-path':'url(#clip-'+p.id+')'},g);
  const cells=mk('g',{'shape-rendering':'crispEdges'},inner);
  p.data.forEach(function(row,r){
    row.forEach(function(v,c){
      const col=p.color(v);
      if(!col) return;
      const x0=xScale(p,p.g.lon0+c*p.g.dLon),x1=xScale(p,p.g.lon0+(c+1)*p.g.dLon);
      const y0=yScale(p,p.g.lat0-r*p.g.dLat),y1=yScale(p,p.g.lat0-(r+1)*p.g.dLat);
      const cell=mk('rect',{x:x0.toFixed(1),y:y0.toFixed(1),width:(x1-x0+0.6).toFixed(1),height:(y1-y0+0.6).toFixed(1),fill:col},cells);
      
      
    });
  });
  // graticule
  const lons=lonTicks.map(function(l,i){return i===3&&p.last?p.last:l;});
  lons.forEach(function(l){
    const gx=xScale(p,l);
    const gl=mk('line',{x1:gx,x2:gx,y1:p.T,y2:p.B,stroke:'#000','stroke-opacity':0.12,'stroke-width':2},inner);
    
    
    const tk=mk('line',{x1:gx,x2:gx,y1:p.B-7,y2:p.B,stroke:'#333','stroke-width':2},inner);
    
    
  });
  latTicks.forEach(function(l){
    const gy=yScale(p,l);
    const t1=mk('line',{x1:p.L,x2:p.L+6,y1:gy,y2:gy,stroke:'#444','stroke-width':2},inner);
    
    
    const t2=mk('line',{x1:p.R-6,x2:p.R,y1:gy,y2:gy,stroke:'#444','stroke-width':2},inner);
    
    
  });
  // coast
  coastLines.forEach(function(line){
    const d=line.map(function(q,i){return (i?'L':'M')+xScale(p,q[0]).toFixed(1)+' '+yScale(p,q[1]).toFixed(1);}).join('');
    const cp=mk('path',{d:d,fill:'none',stroke:'#000','stroke-width':1.5,'stroke-linejoin':'round'},inner);
    
    
  });
  canaryIslands.forEach(function(q){
    const dot=mk('circle',{cx:xScale(p,q[0]),cy:yScale(p,q[1]),r:1.6,fill:'#000'},inner);
    
    
  });
  const fr=mk('rect',{x:p.L,y:p.T,width:p.R-p.L,height:p.B-p.T,fill:'none',stroke:'#666','stroke-width':2.5},g);
  
  
  // labels
  p.lab.forEach(function(c,i){
    const t=mk('text',{class:'tick',x:c[0],y:c[1],'text-anchor':'middle','dominant-baseline':'central',transform:'rotate(-45 '+c[0]+' '+c[1]+')'},g);
    t.textContent=lonTickLabels[i];
    
    
  });
  (p.latLab||[]).forEach(function(c,i){
    const t=mk('text',{class:'tick',x:c[0],y:c[1],'text-anchor':'middle','dominant-baseline':'central',transform:'rotate(-45 '+c[0]+' '+c[1]+')'},g);
    t.textContent=latTickLabels[i];
    
    
  });
});

// ---- colourbars ----
const trendColors=trendNeg.slice().reverse().concat(trendPos);
const trendBounds=[-2,-1.778,-1.556,-1.333,-1.111,-0.889,-0.667,-0.444,-0.222,0,0.222,0.444,0.667,0.889,1.111,1.333,1.556,1.778,2];
const bars=[
{id:'trend',colors:trendColors,bounds:trendBounds,ticks:[-2,0,2],labels:['-2.0','0','2.0'],L:253,R:705,T:862,B:901,tT:851,tB:912,ly:948,edge:'#333',rot:0},
{id:'amplitude',colors:ampColors,bounds:ampBounds,ticks:[0,20],labels:['0','20'],L:1025,R:1631,T:865,B:897,tT:854,tB:909,ly:947,edge:'#bbb',rot:0},
{id:'phase',colors:phaseColors,bounds:phaseBounds,ticks:[0,360],labels:['0','360'],L:2113,R:2715,T:860,B:900,tT:847,tB:912,ly:945,edge:'#222',rot:0.38}
];
const barsG=document.getElementById('bars');
bars.forEach(function(b){
  const min=b.bounds[0],max=b.bounds[b.bounds.length-1];
  const sx=function(v){return b.L+(v-min)/(max-min)*(b.R-b.L);};
  const g=mk('g',{transform:'rotate('+b.rot+' '+b.L+' '+b.T+')'},barsG);
  
  
  b.colors.forEach(function(c,i){
    const r=mk('rect',{x:sx(b.bounds[i]),y:b.T,width:sx(b.bounds[i+1])-sx(b.bounds[i])+0.5,height:b.B-b.T,fill:c,'shape-rendering':'crispEdges'},g);
    
    
  });
  [b.T,b.B].forEach(function(y){
    const e=mk('line',{x1:b.L,x2:b.R,y1:y,y2:y,stroke:b.edge,'stroke-width':2.5},g);
    
    
  });
  b.ticks.forEach(function(v,i){
    const x=sx(v);
    const t=mk('line',{x1:x,x2:x,y1:b.tT,y2:b.tB,stroke:'#333','stroke-width':2},g);
    
    
    const l=mk('text',{class:'cb',x:x,y:b.ly,'text-anchor':'middle','dominant-baseline':'central'},barsG);
    l.textContent=b.labels[i];
    
    
  });
});
</script>
</body>
</html>
